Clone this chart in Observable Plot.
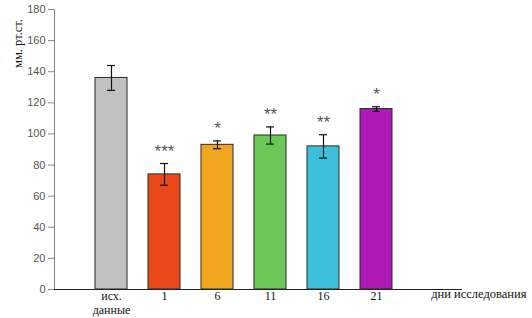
<!DOCTYPE html>
<html><head><meta charset="utf-8">
<script src="https://cdn.jsdelivr.net/npm/d3@7"></script>
<script src="https://cdn.jsdelivr.net/npm/@observablehq/plot@0.6"></script>
<style>body{margin:0;background:#fff}</style>
</head><body><div id="chart"></div>
<script>
const categories = ["исх. данные", "1", "6", "11", "16", "21"];
const values = [136, 74, 93, 99, 92, 116];
const errors = [8, 7, 2.5, 5.5, 7.5, 1.5];
const marks = ["", "***", "*", "**", "**", "*"];
const colors = ["#c0c0c0", "#ea4a1a", "#f0a61e", "#6cc757", "#3bbfdb", "#ae19b8"];
const yTicks = [0, 20, 40, 60, 80, 100, 120, 140, 160, 180];

const data = categories.map((c, i) => ({c, v: values[i], e: errors[i], m: marks[i], col: colors[i]}));
const serif = "'Liberation Serif', 'Times New Roman', serif";
const sans = "'Liberation Sans', Arial, sans-serif";

const chart = Plot.plot({
  width: 532, height: 318,
  marginTop: 9, marginBottom: 29, marginLeft: 54, marginRight: 70,
  style: {fontFamily: sans, background: "#fff"},
  x: {domain: categories, range: [93, 393], paddingInner: 0.4, paddingOuter: 0},
  y: {domain: [0, 180], range: [289, 9]},
  marks: [
    Plot.frame({anchor: "left", stroke: "#888"}),
    Plot.axisY({ticks: yTicks, tickSize: 6, tickPadding: 3, fontSize: 11, color: "#555", stroke: "#888", fontFamily: sans, label: null}),
    Plot.barY(data, {x: "c", y: "v", fill: "col", stroke: "#2a2a2a", strokeWidth: 1}),
    Plot.ruleX(data, {x: "c", y1: d => d.v - d.e, y2: d => d.v + d.e, stroke: "#111", strokeWidth: 1.2}),
    Plot.tickY(data, {x: "c", y: d => d.v + d.e, stroke: "#111", strokeWidth: 1.2, insetLeft: 12, insetRight: 12}),
    Plot.tickY(data, {x: "c", y: d => d.v - d.e, stroke: "#111", strokeWidth: 1.2, insetLeft: 12, insetRight: 12}),
    Plot.text(data, {x: "c", y: d => d.v + d.e, text: "m", dy: -12, fontSize: 17, fill: "#555", fontFamily: sans}),
    Plot.ruleY([0], {stroke: "#222", strokeWidth: 1}),
    Plot.axisX({tickSize: 0, tickPadding: 1, fontSize: 12, lineHeight: 1.15, color: "#111", fontFamily: serif, label: null, tickFormat: d => d.replace(" ", "\n")}),
    Plot.text(["дни исследования"], {frameAnchor: "bottom-right", dx: 64, dy: 8, textAnchor: "end", fontSize: 12.5, fill: "#111", fontFamily: serif}),
    Plot.text(["мм. рт.ст."], {frameAnchor: "top-left", dx: -41, dy: 34, rotate: -90, textAnchor: "middle", fontSize: 12.5, fill: "#111", fontFamily: serif})
  ]
});
document.getElementById("chart").append(chart);
</script></body></html>
